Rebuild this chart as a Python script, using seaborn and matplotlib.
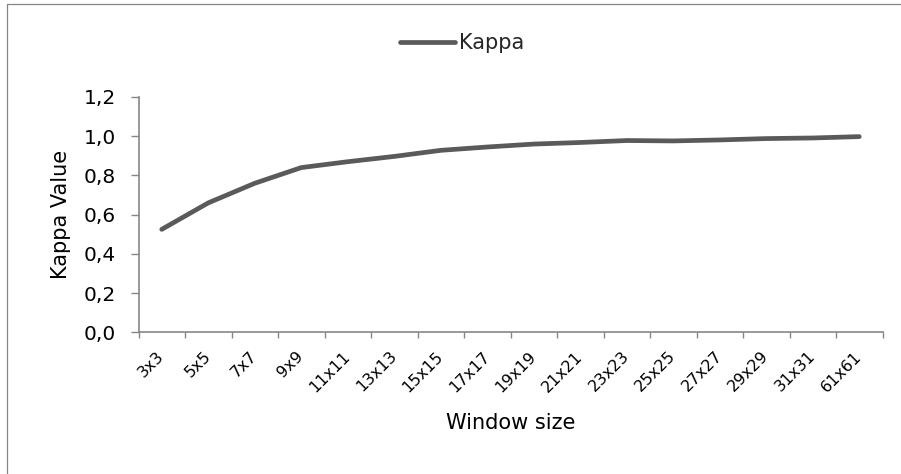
import matplotlib
matplotlib.use("Agg")
import matplotlib.pyplot as plt
from matplotlib.lines import Line2D
from matplotlib.ticker import FixedLocator, FuncFormatter
import seaborn as sns
import pandas as pd

# Window sizes tested and the resulting Kappa agreement
windows = ["3x3", "5x5", "7x7", "9x9", "11x11", "13x13", "15x15", "17x17",
           "19x19", "21x21", "23x23", "25x25", "27x27", "29x29", "31x31", "61x61"]
kappa = [0.525, 0.66, 0.76, 0.84, 0.87, 0.897, 0.928, 0.945,
         0.96, 0.968, 0.978, 0.976, 0.981, 0.988, 0.991, 0.998]
y_ticks = [0.0, 0.2, 0.4, 0.6, 0.8, 1.0, 1.2]

df = pd.DataFrame({"Window size": windows, "Kappa": kappa})

sns.set_style("white")
plt.rcParams["font.family"] = ["DejaVu Sans"]

W, H = 901, 474
fig = plt.figure(figsize=(W / 100, H / 100), dpi=100)
ax = fig.add_axes([138.5 / W, 1 - 332.3 / H, 744 / W, 235.3 / H])

line_color = "#5a5a5a"
axis_color = "#868686"

sns.lineplot(data=df, x="Window size", y="Kappa", ax=ax, color=line_color,
             linewidth=3.4, label="Kappa", sort=False,
             solid_capstyle="round", solid_joinstyle="round")

ax.set_xlim(-0.5, len(windows) - 0.5)
ax.set_ylim(y_ticks[0], y_ticks[-1])

# y axis: comma decimal separator
ax.yaxis.set_major_locator(FixedLocator(y_ticks))
ax.yaxis.set_major_formatter(FuncFormatter(lambda v, p: f"{v:.1f}".replace(".", ",")))
ax.tick_params(axis="y", which="major", direction="out", length=5.5, width=1,
               color=axis_color, labelsize=14.5, pad=11, labelcolor="black", left=True)

# x axis: labels at category centres, tick marks on category boundaries
ax.set_xticks(range(len(windows)))
ax.set_xticklabels(windows, rotation=45, ha="right", va="center",
                   rotation_mode="anchor", fontsize=11.5)
ax.set_xticks([i - 0.5 for i in range(len(windows) + 1)], minor=True)
ax.tick_params(axis="x", which="major", length=0, pad=15.5, labelcolor="black")
ax.tick_params(axis="x", which="minor", direction="out", length=4, width=1,
               color=axis_color, bottom=True)

for side in ("top", "right"):
    ax.spines[side].set_visible(False)
for side in ("left", "bottom"):
    ax.spines[side].set_color(axis_color)
    ax.spines[side].set_linewidth(1.2)

ax.set_xlabel("Window size", fontsize=15, color="black")
ax.set_ylabel("Kappa Value", fontsize=15, color="black")
ax.xaxis.set_label_coords(0.5, -0.345)
ax.yaxis.set_label_coords((71 - 138.5) / 744, 0.5)

leg = ax.legend(loc="center", bbox_to_anchor=(462 / W, 1 - 43.3 / H),
                bbox_transform=fig.transFigure, frameon=False, fontsize=15,
                handlelength=2.65, handletextpad=0.2, borderpad=0, borderaxespad=0)

# chart-area border: top and left edges
bx, by = 6.5 / W, 1 - 3.5 / H
fig.add_artist(Line2D([bx, 1.0], [by, by], transform=fig.transFigure,
                      color=axis_color, linewidth=0.9))
fig.add_artist(Line2D([bx, bx], [0.0, by], transform=fig.transFigure,
                      color=axis_color, linewidth=0.9))

fig.savefig("out.png", dpi=100)
